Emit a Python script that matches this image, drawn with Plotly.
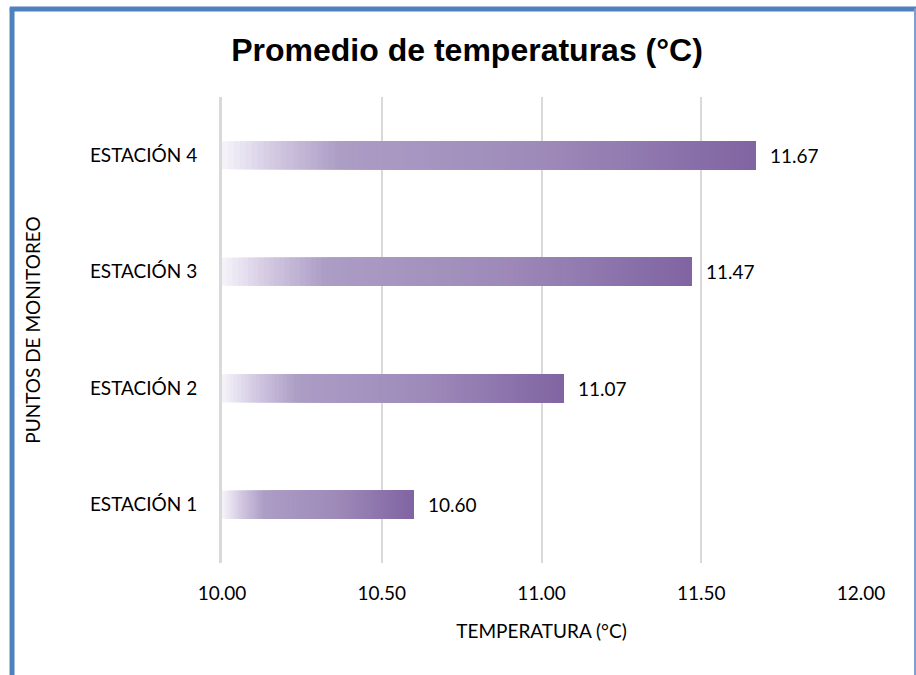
import plotly.graph_objects as go

# Monitoring stations and mean temperature (°C)
stations = ["ESTACIÓN 1", "ESTACIÓN 2", "ESTACIÓN 3", "ESTACIÓN 4"]
temps = [10.60, 11.07, 11.47, 11.67]
x_ticks = [10.0, 10.5, 11.0, 11.5, 12.0]

AXIS_MIN = 10.0
N_STEPS = 90

# Gradient stops along each bar (fraction of bar length -> RGB)
grad_stops = [
    (0.00, (246, 244, 250)),
    (0.10, (210, 200, 225)),
    (0.22, (172, 157, 197)),
    (0.60, (158, 138, 185)),
    (1.00, (128, 100, 162)),
]


def grad_color(t):
    for (t0, c0), (t1, c1) in zip(grad_stops[:-1], grad_stops[1:]):
        if t <= t1:
            f = (t - t0) / (t1 - t0) if t1 > t0 else 0
            c = [round(a + (b - a) * f) for a, b in zip(c0, c1)]
            return f"rgb({c[0]},{c[1]},{c[2]})"
    c = grad_stops[-1][1]
    return f"rgb({c[0]},{c[1]},{c[2]})"


# Each bar is built from overlapping segments that all run to the bar's end,
# so later (darker) pieces cover the right side and no seams appear.
seg_y, seg_base, seg_len, seg_col = [], [], [], []
for name, v in zip(stations, temps):
    span = v - AXIS_MIN
    for i in range(N_STEPS):
        t = i / N_STEPS
        start = AXIS_MIN + span * t
        seg_y.append(name)
        seg_base.append(start)
        seg_len.append(v - start)
        seg_col.append(grad_color((i + 0.5) / N_STEPS))

fig = go.Figure()
fig.add_trace(go.Bar(
    y=seg_y, x=seg_len, base=seg_base, orientation="h",
    marker=dict(color=seg_col, line=dict(width=0)),
    width=0.24, hoverinfo="skip", showlegend=False,
))

font_body = "Lato, Calibri, Carlito, sans-serif"
FS = 19

# value labels to the right of each bar
for name, v in zip(stations, temps):
    fig.add_annotation(
        x=v, y=name, text=f"{v:.2f}", showarrow=False,
        xanchor="left", xshift=12,
        font=dict(family=font_body, size=FS, color="#000000"),
    )

# outer chart frame
frame = dict(type="line", xref="paper", yref="paper", layer="above")
fig.add_shape(**frame, x0=-0.3286, x1=-0.3286, y0=1.192, y1=-0.25,
              line=dict(color="#4f81bd", width=5))
fig.add_shape(**frame, x0=-0.332, x1=1.09, y0=1.189, y1=1.189,
              line=dict(color="#4f81bd", width=5))
fig.add_shape(**frame, x0=1.0845, x1=1.0845, y0=1.19, y1=-0.25,
              line=dict(color="#7f9fcf", width=2))

fig.update_layout(
    width=916, height=675,
    margin=dict(l=222, r=55, t=97, b=112),
    paper_bgcolor="white", plot_bgcolor="white",
    barmode="overlay",
    title=dict(
        text="<b>Promedio de temperaturas (°C)</b>",
        x=467 / 916, xanchor="center",
        y=1 - 50 / 675, yanchor="middle",
        font=dict(family="Liberation Sans, Arial, sans-serif", size=32, color="#000000"),
    ),
    xaxis=dict(
        range=[10.0, 12.0], tickvals=x_ticks, ticktext=[f"{t:.2f}" for t in x_ticks],
        showgrid=True, gridcolor="#d9d9d9", gridwidth=2,
        zeroline=False, showline=False, ticks="",
        ticklabelstandoff=17,
        tickfont=dict(family=font_body, size=FS, color="#000000"),
        title=dict(text="TEMPERATURA (°C)", standoff=21,
                   font=dict(family=font_body, size=FS, color="#000000")),
    ),
    yaxis=dict(
        categoryorder="array", categoryarray=stations,
        range=[-0.5, 3.5],
        showgrid=False, zeroline=False,
        showline=True, linecolor="#d9d9d9", linewidth=3,
        ticks="", ticklabelstandoff=18,
        tickfont=dict(family=font_body, size=FS, color="#000000"),
        title=dict(text="PUNTOS DE MONITOREO", standoff=45,
                   font=dict(family=font_body, size=FS, color="#000000")),
    ),
)

fig.write_html("out.html")
